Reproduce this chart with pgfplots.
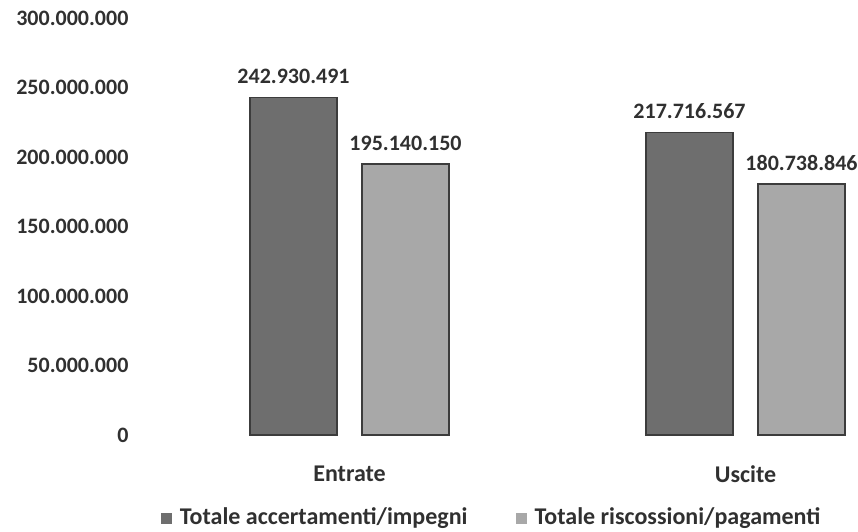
\documentclass[border=0pt]{standalone}
\usepackage{pgfplots}
\pgfplotsset{compat=1.18}
\usepackage{fontspec}
\setmainfont{Carlito}
\definecolor{txt}{HTML}{303030}
\definecolor{darkbar}{HTML}{6E6E6E}
\definecolor{lightbar}{HTML}{A8A8A8}
\definecolor{edge}{HTML}{3C3C3C}
\begin{document}
\begin{tikzpicture}
\begin{axis}[
  scale only axis,
  width=353.25pt, height=208.5pt,
  xmin=-0.5, xmax=1.284,
  ymin=0, ymax=300,
  clip=false,
  axis line style={draw=none},
  tick style={draw=none},
  major tick length=0pt,
  xtick={0,1},
  xticklabels={Entrate,Uscite},
  ytick={0,50,100,150,200,250,300},
  yticklabels={0,50.000.000,100.000.000,150.000.000,200.000.000,250.000.000,300.000.000},
  ticklabel style={font=\bfseries\fontsize{11}{13}\selectfont, text=txt},
  yticklabel style={anchor=east, xshift=-8pt},
  xticklabel style={yshift=-12pt, font=\bfseries\fontsize{12}{14}\selectfont},
  nodes near coords,
  point meta=explicit symbolic,
  every node near coord/.append style={font=\bfseries\fontsize{11}{13}\selectfont, text=txt, yshift=3pt},
  legend columns=2,
  legend style={draw=none, fill=none, inner sep=0pt,
    at={(axis description cs:0,0)}, anchor=west, xshift=4.5pt, yshift=-41.5pt,
    font=\bfseries\fontsize{12}{14}\selectfont, text=txt,
    /tikz/every odd column/.append style={column sep=2pt},
    /tikz/every even column/.append style={column sep=22pt}},
  legend cell align=left,
  legend image code/.code={\path[#1, draw=none] (0pt,-2.75pt) rectangle (5.5pt,2.75pt);},
]
\coordinate (O) at (rel axis cs:0,0);
\addplot[ybar, bar width=0.2197, bar shift=0pt, fill=darkbar, draw=edge, line width=0.8pt]
  coordinates {(-0.1414,242.930491) [242.930.491] (0.8586,217.716567) [217.716.567]};
\addplot[ybar, bar width=0.2197, bar shift=0pt, fill=lightbar, draw=edge, line width=0.8pt]
  coordinates {(0.1414,195.140150) [195.140.150] (1.1414,180.738846) [180.738.846]};
\legend{Totale accertamenti/impegni, Totale riscossioni/pagamenti}
\end{axis}
\pgfresetboundingbox
\path[use as bounding box] (O) ++(-75.75pt,-48pt) rectangle ++(429pt,265.5pt);
\end{tikzpicture}
\end{document}
